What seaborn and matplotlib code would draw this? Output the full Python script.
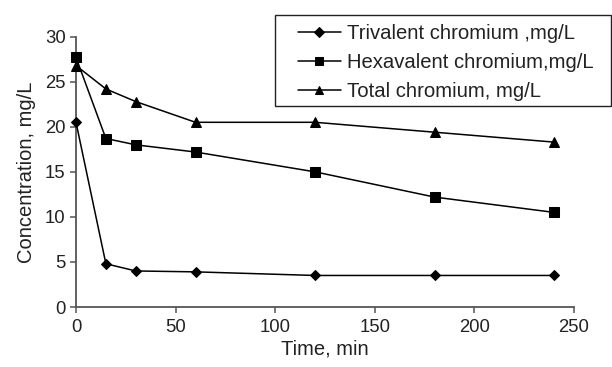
import matplotlib
matplotlib.use("Agg")
import matplotlib.pyplot as plt
from matplotlib.patches import Rectangle
import seaborn as sns
import pandas as pd

time_min = [0, 15, 30, 60, 120, 180, 240]
trivalent = [20.5, 4.8, 4.0, 3.9, 3.5, 3.5, 3.5]
hexavalent = [27.7, 18.7, 18.0, 17.2, 15.0, 12.2, 10.5]
total = [26.8, 24.2, 22.8, 20.5, 20.5, 19.4, 18.3]
series_names = ["Trivalent chromium ,mg/L", "Hexavalent chromium,mg/L", "Total chromium, mg/L"]
x_ticks = [0, 50, 100, 150, 200, 250]
y_ticks = [0, 5, 10, 15, 20, 25, 30]

rows = []
for name, vals in zip(series_names, [trivalent, hexavalent, total]):
    for t, v in zip(time_min, vals):
        rows.append({"Time": t, "Value": v, "Series": name})
df = pd.DataFrame(rows)

sns.set_theme(style="white")
plt.rcParams["font.family"] = ["Liberation Sans", "DejaVu Sans"]

fig = plt.figure(figsize=(6.12, 3.67), dpi=100)
ax = fig.add_axes([76 / 612, 1 - 307 / 367, (574 - 76) / 612, (307 - 36.7) / 367])

markers = {series_names[0]: "D", series_names[1]: "s", series_names[2]: "^"}
sizes = {series_names[0]: 5.3, series_names[1]: 6.5, series_names[2]: 7.8}
for name in series_names:
    sub = df[df["Series"] == name]
    sns.lineplot(data=sub, x="Time", y="Value", ax=ax, color="black",
                 marker=markers[name], markersize=sizes[name], linewidth=1.1,
                 markeredgecolor="black", markerfacecolor="black",
                 label=name, clip_on=False, zorder=3)

ax.set_xlim(0, 250)
ax.set_ylim(0, 30)
ax.set_xticks(x_ticks)
ax.set_yticks(y_ticks)
ax.set_xticklabels([str(v) for v in x_ticks])
ax.set_yticklabels([str(v) for v in y_ticks])
for s in ["top", "right"]:
    ax.spines[s].set_visible(False)
for s in ["left", "bottom"]:
    ax.spines[s].set_color("#555555")
    ax.spines[s].set_linewidth(1.3)
ax.tick_params(axis="both", direction="out", length=4.5, width=1.1, color="#555555",
               labelsize=13.3, labelcolor="#222222", bottom=True, left=True)
ax.tick_params(axis="y", pad=3)
ax.tick_params(axis="x", pad=4)
ax.set_xlabel("Time, min", fontsize=14.5, color="#222222", labelpad=3)
ax.set_ylabel("Concentration, mg/L", fontsize=14.5, color="#222222", labelpad=6)

handles, labels = ax.get_legend_handles_labels()
ax.get_legend().remove()
leg = fig.legend(handles, labels, loc="upper left",
                 bbox_to_anchor=(298 / 612, 1 - 24 / 367), bbox_transform=fig.transFigure,
                 fontsize=14.6, frameon=False, borderaxespad=0,
                 handlelength=2.1, handletextpad=0.3, borderpad=0.0,
                 labelspacing=0.5, labelcolor="#222222")
for h in leg.legend_handles:
    h.set_markersize(5.5)

fig.patches.append(Rectangle((275 / 612, 1 - 106 / 367), (611 - 275) / 612, (106 - 15) / 367,
                             transform=fig.transFigure, fill=False,
                             edgecolor="#222222", linewidth=1.0))

fig.savefig("out.png", dpi=100)
